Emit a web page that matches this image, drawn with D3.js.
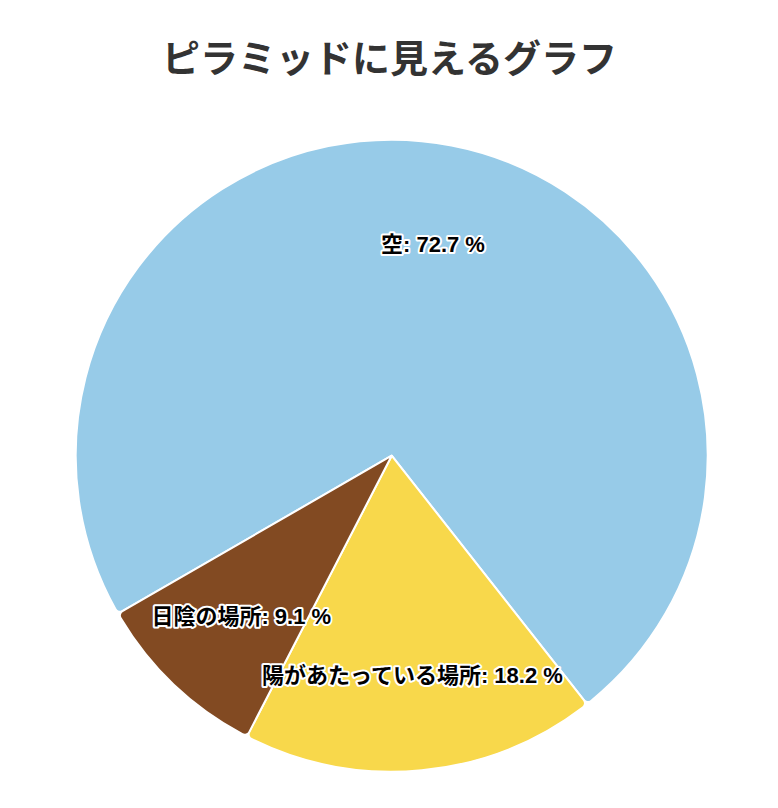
<!DOCTYPE html>
<html><head><meta charset="utf-8">
<script src="https://cdn.jsdelivr.net/npm/d3@7"></script>
<style>
html,body{margin:0;padding:0;background:#fff;}
</style></head>
<body>
<svg id="chart" width="778" height="808"></svg>
<script>
const titleText = "ピラミッドに見えるグラフ";
const categories = ["空", "陽があたっている場所", "日陰の場所"];
const values = [8, 2, 1];
const colors = ["#97cbe8", "#f8d84b", "#824a22"];
const startAngleDeg = -120;

const W = 778, H = 808;
const cx = 391.7, cy = 455.7, R = 316;
const svg = d3.select("#chart");

svg.append("text")
  .attr("x", 389.5).attr("y", 72)
  .attr("text-anchor", "middle")
  .attr("font-family", "'Noto Sans CJK JP', sans-serif")
  .attr("font-weight", "bold")
  .attr("font-size", 38)
  .attr("fill", "#333333")
  .text(titleText);

const data = categories.map((c, i) => ({name: c, value: values[i], color: colors[i]}));
const total = d3.sum(values);
const sa = startAngleDeg * Math.PI / 180;
const pie = d3.pie().sort(null).value(d => d.value).startAngle(sa).endAngle(sa + 2 * Math.PI);
const arcs = pie(data);
const arc = d3.arc().innerRadius(0).outerRadius(R).cornerRadius(5);
const g = svg.append("g").attr("transform", `translate(${cx},${cy})`);

g.selectAll("path.slice").data(arcs).enter().append("path")
  .attr("class", "slice")
  .attr("d", arc)
  .attr("fill", d => d.data.color)
  .attr("stroke", "#ffffff")
  .attr("stroke-width", 2)
  .attr("stroke-linejoin", "round");

const labelArc = d3.arc().innerRadius(218).outerRadius(218);
g.selectAll("text.lbl").data(arcs).enter().append("text")
  .attr("class", "lbl")
  .attr("transform", d => `translate(${labelArc.centroid(d)})`)
  .attr("dy", 3)
  .attr("text-anchor", "middle")
  .attr("dominant-baseline", "central")
  .attr("font-family", "'Liberation Sans', 'Noto Sans CJK JP', sans-serif")
  .attr("font-weight", "bold")
  .attr("font-size", 22)
  .attr("fill", "#000000")
  .attr("stroke", "#ffffff")
  .attr("stroke-width", 4)
  .attr("stroke-linejoin", "round")
  .attr("paint-order", "stroke")
  .text(d => `${d.data.name}: ${(d.data.value / total * 100).toFixed(1)} %`);
</script>
</body></html>
